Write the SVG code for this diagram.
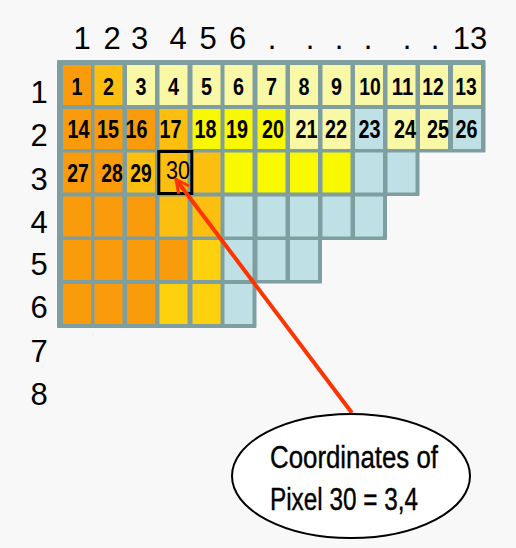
<svg xmlns="http://www.w3.org/2000/svg" width="516" height="548" viewBox="0 0 516 548">
<style>
.lbl{font-family:"Liberation Sans",Arial,sans-serif;font-size:31px;fill:#000;text-anchor:middle}
.n{font-family:"Liberation Sans",Arial,sans-serif;font-size:24px;font-weight:bold;fill:#000;text-anchor:middle}
.m{font-size:25px}
.O{fill:#f99b0b}.G{fill:#fcbf10}.L{fill:#fed10e}.P{fill:#f9f8a6}.Y{fill:#f8f800}.B{fill:#bfe0e4}
.et{font-family:"Liberation Sans",Arial,sans-serif;font-size:31px;fill:#000;stroke:#000;stroke-width:0.4}
</style>
<defs>
<marker id="vh" viewBox="0 0 16 16" refX="14" refY="8" markerWidth="16" markerHeight="16" markerUnits="userSpaceOnUse" orient="auto">
<path d="M1,1.5 L14,8 L1,14.5" fill="none" stroke="#ff3300" stroke-width="3"/>
</marker>
</defs>
<rect width="516" height="548" fill="#f8f8f8"/>
<g id="col-labels">
<text class="lbl" x="82" y="49">1</text><text class="lbl" x="112" y="49">2</text><text class="lbl" x="139.5" y="49">3</text><text class="lbl" x="178" y="49">4</text><text class="lbl" x="208" y="49">5</text><text class="lbl" x="237.5" y="49">6</text>
<text class="lbl" x="272" y="49">.</text><text class="lbl" x="310" y="49">.</text><text class="lbl" x="339" y="49">.</text><text class="lbl" x="368" y="49">.</text><text class="lbl" x="407" y="49">.</text><text class="lbl" x="435" y="49">.</text><text class="lbl" x="470" y="49">13</text>
</g>
<g id="row-labels">
<text class="lbl" x="39" y="103">1</text><text class="lbl" x="39" y="146">2</text><text class="lbl" x="39" y="190">3</text><text class="lbl" x="39" y="233">4</text><text class="lbl" x="39" y="275">5</text><text class="lbl" x="39" y="318">6</text><text class="lbl" x="39" y="362">7</text><text class="lbl" x="39" y="405">8</text>
</g>
<g id="grid">
<path d="M58,61 H484.5 V151.5 H418.5 V195 H386 V239 H321 V282.5 H255.5 V327 H58 Z" fill="#7f9ea0" stroke="#7f9ea0" stroke-width="2" stroke-linejoin="round"/>
<!-- row 1 -->
<g id="cell1"><rect class="O" x="63" y="65" width="28" height="40"/><text class="n" x="77" y="94.5" textLength="11" lengthAdjust="spacingAndGlyphs">1</text></g>
<g id="cell2"><rect class="G" x="94.5" y="65" width="28" height="40"/><text class="n" x="108.5" y="94.5" textLength="11" lengthAdjust="spacingAndGlyphs">2</text></g>
<g id="cell3"><rect class="P" x="127" y="65" width="28" height="40"/><text class="n" x="141" y="94.5" textLength="11" lengthAdjust="spacingAndGlyphs">3</text></g>
<g id="cell4"><rect class="P" x="159.5" y="65" width="28" height="40"/><text class="n" x="173.5" y="94.5" textLength="11" lengthAdjust="spacingAndGlyphs">4</text></g>
<g id="cell5"><rect class="P" x="192.5" y="65" width="28" height="40"/><text class="n" x="206.5" y="94.5" textLength="11" lengthAdjust="spacingAndGlyphs">5</text></g>
<g id="cell6"><rect class="P" x="224.5" y="65" width="28" height="40"/><text class="n" x="238.5" y="94.5" textLength="11" lengthAdjust="spacingAndGlyphs">6</text></g>
<g id="cell7"><rect class="P" x="257.5" y="65" width="28" height="40"/><text class="n" x="271.5" y="94.5" textLength="11" lengthAdjust="spacingAndGlyphs">7</text></g>
<g id="cell8"><rect class="P" x="290" y="65" width="28" height="40"/><text class="n" x="304" y="94.5" textLength="11" lengthAdjust="spacingAndGlyphs">8</text></g>
<g id="cell9"><rect class="P" x="322.5" y="65" width="28" height="40"/><text class="n" x="336.5" y="94.5" textLength="11" lengthAdjust="spacingAndGlyphs">9</text></g>
<g id="cell10"><rect class="P" x="355" y="65" width="28" height="40"/><text class="n" x="370" y="94.5" textLength="21.5" lengthAdjust="spacingAndGlyphs">10</text></g>
<g id="cell11"><rect class="P" x="387.5" y="65" width="28" height="40"/><text class="n" x="402.5" y="94.5" textLength="21.5" lengthAdjust="spacingAndGlyphs">11</text></g>
<g id="cell12"><rect class="P" x="420" y="65" width="28" height="40"/><text class="n" x="433" y="94.5" textLength="21.5" lengthAdjust="spacingAndGlyphs">12</text></g>
<g id="cell13"><rect class="P" x="453" y="65" width="28" height="40"/><text class="n" x="466" y="94.5" textLength="21.5" lengthAdjust="spacingAndGlyphs">13</text></g>
<!-- row 2 -->
<g id="cell14"><rect class="O" x="63" y="109" width="28" height="40"/><text class="n m" x="78.5" y="138.3" textLength="22" lengthAdjust="spacingAndGlyphs">14</text></g>
<g id="cell15"><rect class="O" x="94.5" y="109" width="28" height="40"/><text class="n m" x="108" y="138.3" textLength="22" lengthAdjust="spacingAndGlyphs">15</text></g>
<g id="cell16"><rect class="O" x="127" y="109" width="28" height="40"/><text class="n m" x="136.5" y="138.3" textLength="22" lengthAdjust="spacingAndGlyphs">16</text></g>
<g id="cell17"><rect class="G" x="159.5" y="109" width="28" height="40"/><text class="n m" x="170.5" y="138.3" textLength="22" lengthAdjust="spacingAndGlyphs">17</text></g>
<g id="cell18"><rect class="Y" x="192.5" y="109" width="28" height="40"/><text class="n m" x="205.5" y="138.3" textLength="22" lengthAdjust="spacingAndGlyphs">18</text></g>
<g id="cell19"><rect class="Y" x="224.5" y="109" width="28" height="40"/><text class="n m" x="237" y="138.3" textLength="22" lengthAdjust="spacingAndGlyphs">19</text></g>
<g id="cell20"><rect class="Y" x="257.5" y="109" width="28" height="40"/><text class="n m" x="273" y="138.3" textLength="22" lengthAdjust="spacingAndGlyphs">20</text></g>
<g id="cell21"><rect class="P" x="290" y="109" width="28" height="40"/><text class="n m" x="306.5" y="138.3" textLength="22" lengthAdjust="spacingAndGlyphs">21</text></g>
<g id="cell22"><rect class="P" x="322.5" y="109" width="28" height="40"/><text class="n m" x="336" y="138.3" textLength="22" lengthAdjust="spacingAndGlyphs">22</text></g>
<g id="cell23"><rect class="B" x="355" y="109" width="28" height="40"/><text class="n m" x="369.5" y="138.3" textLength="22" lengthAdjust="spacingAndGlyphs">23</text></g>
<g id="cell24"><rect class="P" x="387.5" y="109" width="28" height="40"/><text class="n m" x="405" y="138.3" textLength="22" lengthAdjust="spacingAndGlyphs">24</text></g>
<g id="cell25"><rect class="P" x="420" y="109" width="28" height="40"/><text class="n m" x="438" y="138.3" textLength="22" lengthAdjust="spacingAndGlyphs">25</text></g>
<g id="cell26"><rect class="B" x="453" y="109" width="28" height="40"/><text class="n m" x="466.5" y="138.3" textLength="22" lengthAdjust="spacingAndGlyphs">26</text></g>
<!-- row 3 -->
<g id="cell27"><rect class="O" x="63" y="152.5" width="28" height="40"/><text class="n m" x="78" y="182" textLength="21.5" lengthAdjust="spacingAndGlyphs">27</text></g>
<g id="cell28"><rect class="O" x="94.5" y="152.5" width="28" height="40"/><text class="n m" x="112" y="182" textLength="21.5" lengthAdjust="spacingAndGlyphs">28</text></g>
<g id="cell29"><rect class="G" x="127" y="152.5" width="28" height="40"/><text class="n m" x="141" y="182" textLength="21.5" lengthAdjust="spacingAndGlyphs">29</text></g>
<g id="cell30"><rect class="G" x="159.5" y="152.5" width="28" height="40"/></g>
<g id="r3c5"><rect class="G" x="192.5" y="152.5" width="28" height="40"/></g>
<g id="r3c6"><rect class="Y" x="224.5" y="152.5" width="28" height="40"/></g>
<g id="r3c7"><rect class="Y" x="257.5" y="152.5" width="28" height="40"/></g>
<g id="r3c8"><rect class="Y" x="290" y="152.5" width="28" height="40"/></g>
<g id="r3c9"><rect class="Y" x="322.5" y="152.5" width="28" height="40"/></g>
<g id="r3c10"><rect class="B" x="355" y="152.5" width="28" height="40"/></g>
<g id="r3c11"><rect class="B" x="387.5" y="152.5" width="28" height="40"/></g>
<!-- row 4 -->
<g id="r4c1"><rect class="O" x="63" y="196.5" width="28" height="40"/></g>
<g id="r4c2"><rect class="O" x="94.5" y="196.5" width="28" height="40"/></g>
<g id="r4c3"><rect class="O" x="127" y="196.5" width="28" height="40"/></g>
<g id="r4c4"><rect class="G" x="159.5" y="196.5" width="28" height="40"/></g>
<g id="r4c5"><rect class="G" x="192.5" y="196.5" width="28" height="40"/></g>
<g id="r4c6"><rect class="B" x="224.5" y="196.5" width="28" height="40"/></g>
<g id="r4c7"><rect class="B" x="257.5" y="196.5" width="28" height="40"/></g>
<g id="r4c8"><rect class="B" x="290" y="196.5" width="28" height="40"/></g>
<g id="r4c9"><rect class="B" x="322.5" y="196.5" width="28" height="40"/></g>
<g id="r4c10"><rect class="B" x="355" y="196.5" width="28" height="40"/></g>
<!-- row 5 -->
<g id="r5c1"><rect class="O" x="63" y="240" width="28" height="40"/></g>
<g id="r5c2"><rect class="O" x="94.5" y="240" width="28" height="40"/></g>
<g id="r5c3"><rect class="O" x="127" y="240" width="28" height="40"/></g>
<g id="r5c4"><rect class="O" x="159.5" y="240" width="28" height="40"/></g>
<g id="r5c5"><rect class="L" x="192.5" y="240" width="28" height="40"/></g>
<g id="r5c6"><rect class="B" x="224.5" y="240" width="28" height="40"/></g>
<g id="r5c7"><rect class="B" x="257.5" y="240" width="28" height="40"/></g>
<g id="r5c8"><rect class="B" x="290" y="240" width="28" height="40"/></g>
<!-- row 6 -->
<g id="r6c1"><rect class="O" x="63" y="284" width="28" height="40"/></g>
<g id="r6c2"><rect class="O" x="94.5" y="284" width="28" height="40"/></g>
<g id="r6c3"><rect class="O" x="127" y="284" width="28" height="40"/></g>
<g id="r6c4"><rect class="L" x="159.5" y="284" width="28" height="40"/></g>
<g id="r6c5"><rect class="L" x="192.5" y="284" width="28" height="40"/></g>
<g id="r6c6"><rect class="B" x="224.5" y="284" width="28" height="40"/></g>
</g>
<g id="pixel30">
<rect x="158.8" y="151.5" width="33" height="42" fill="none" stroke="#000" stroke-width="3"/>
<text x="178" y="179" font-family="'Liberation Sans',Arial,sans-serif" font-size="26" text-anchor="middle" textLength="24" lengthAdjust="spacingAndGlyphs">30</text>
</g>
<g id="connectors">
<line x1="352" y1="413" x2="176" y2="179.5" stroke="#ff3300" stroke-width="4" marker-end="url(#vh)"/>
</g>
<g id="callout">
<ellipse cx="351" cy="476" rx="119" ry="62" fill="#fff" stroke="#000" stroke-width="2"/>
<text class="et" x="270" y="468" textLength="168" lengthAdjust="spacingAndGlyphs">Coordinates of</text>
<text class="et" x="270" y="510" textLength="148" lengthAdjust="spacingAndGlyphs">Pixel 30 = 3,4</text>
</g>
</svg>
